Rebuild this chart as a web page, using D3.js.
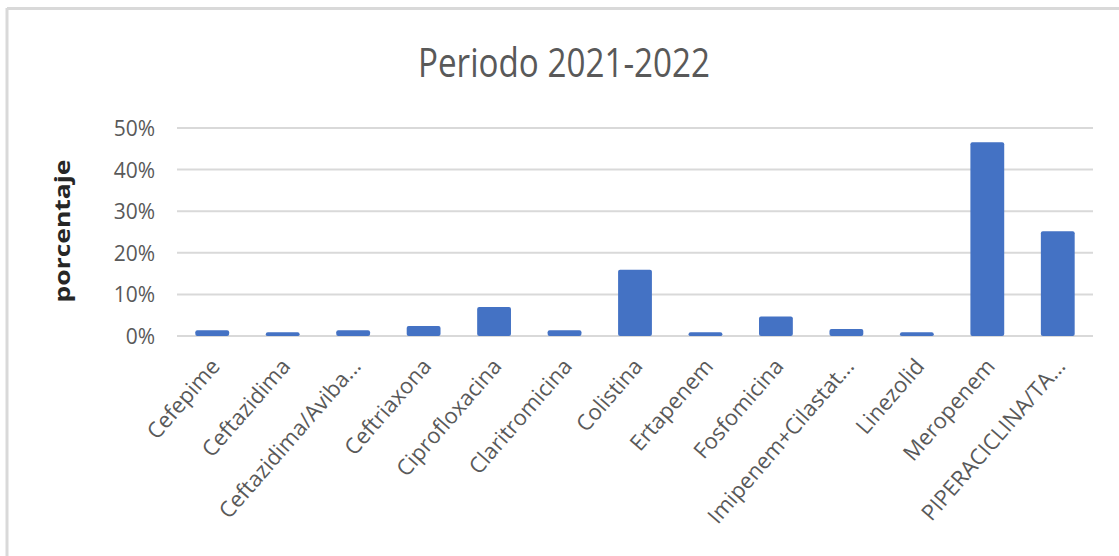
<!DOCTYPE html>
<html>
<head>
<meta charset="utf-8">
<script src="https://cdn.jsdelivr.net/npm/d3@7"></script>
<style>
  html, body { margin: 0; padding: 0; background: #fff; }
  svg { display: block; }
</style>
</head>
<body>
<svg id="chart" width="1119" height="556"></svg>
<script>
// Antibiotic usage share, 2021-2022
const categories = [
  "Cefepime", "Ceftazidima", "Ceftazidima/Aviba...", "Ceftriaxona",
  "Ciprofloxacina", "Claritromicina", "Colistina", "Ertapenem",
  "Fosfomicina", "Imipenem+Cilastat...", "Linezolid", "Meropenem",
  "PIPERACICLINA/TA..."
];
const values = [0.014, 0.009, 0.014, 0.024, 0.070, 0.014, 0.159, 0.009, 0.047, 0.017, 0.009, 0.466, 0.252];
const yTicks = [0, 0.1, 0.2, 0.3, 0.4, 0.5];
const chartTitle = "Periodo 2021-2022";
const yTitle = "porcentaje";

const svg = d3.select("#chart");
const W = 1119, H = 556;
const plot = { left: 177, right: 1093, top: 128, bottom: 336 };

// chart frame (top and left edges)
svg.append("line").attr("x1", 7).attr("x2", W).attr("y1", 8.5).attr("y2", 8.5)
  .attr("stroke", "#d9d9d9").attr("stroke-width", 3);
svg.append("line").attr("x1", 7).attr("x2", 7).attr("y1", 8).attr("y2", H)
  .attr("stroke", "#d9d9d9").attr("stroke-width", 3);

const x = d3.scaleBand().domain(categories).range([plot.left, plot.right]).paddingInner(0.52).paddingOuter(0.26);
const y = d3.scaleLinear().domain([0, 0.5]).range([plot.bottom, plot.top]);

// gridlines
svg.append("g").selectAll("line").data(yTicks).join("line")
  .attr("x1", plot.left).attr("x2", plot.right)
  .attr("y1", d => y(d)).attr("y2", d => y(d))
  .attr("stroke", "#d9d9d9").attr("stroke-width", 2);

// y axis labels
const yAxis = d3.axisLeft(y).tickValues(yTicks).tickFormat(d3.format(".0%")).tickSize(0).tickPadding(0);
const gy = svg.append("g").attr("transform", `translate(155,0)`).call(yAxis);
gy.select(".domain").remove();
gy.selectAll("text").attr("font-family", "Open Sans").attr("font-size", 21)
  .attr("fill", "#595959").attr("dy", "0.36em");

// bars
svg.append("g").selectAll("rect").data(values).join("rect")
  .attr("x", (d, i) => x(categories[i]))
  .attr("width", x.bandwidth())
  .attr("y", d => y(d))
  .attr("height", d => y(0) - y(d))
  .attr("rx", 2).attr("ry", 2)
  .attr("fill", "#4472c4");

// x axis labels
const xAxis = d3.axisBottom(x).tickSize(0).tickPadding(0);
const gx = svg.append("g").attr("transform", `translate(0,${plot.bottom})`).call(xAxis);
gx.select(".domain").remove();
gx.selectAll(".tick text")
  .attr("font-family", "Open Sans").attr("font-size", 22).attr("fill", "#595959")
  .attr("text-anchor", "end")
  .attr("dy", "0.35em")
  .attr("transform", "translate(3,26) rotate(-49)");

// title
svg.append("text")
  .attr("transform", "translate(564,77) scale(1,1.35)")
  .attr("text-anchor", "middle")
  .attr("font-family", "Open Sans").attr("font-size", 30)
  .attr("fill", "#595959")
  .attr("textLength", 292).attr("lengthAdjust", "spacingAndGlyphs")
  .text(chartTitle);

// y axis title
svg.append("text")
  .attr("transform", "translate(70,231) rotate(-90)")
  .attr("text-anchor", "middle")
  .attr("font-family", "Open Sans").attr("font-size", 21).attr("font-weight", "bold")
  .attr("fill", "#262626")
  .attr("textLength", 143).attr("lengthAdjust", "spacingAndGlyphs")
  .text(yTitle);
</script>
</body>
</html>
